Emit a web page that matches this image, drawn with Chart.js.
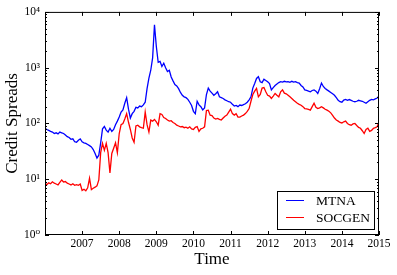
<!DOCTYPE html>
<html>
<head>
<meta charset="utf-8">
<script src="https://cdn.jsdelivr.net/npm/chart.js@4"></script>
<style>
  body { margin: 0; background: #fff; }
</style>
</head>
<body>
<canvas id="chart" width="397" height="275"></canvas>
<script>
// values, one every 0.05 year from 2006.0 to 2015.0
const startYear = 2006;
const step = 0.05;

const mtna = [
  82, 78, 75, 72, 70, 66, 68, 65, 70, 68,
  66, 62, 58, 56, 52, 53, 47, 46, 50, 53,
  47, 45, 44, 42, 40, 38, 34, 29, 24, 27,
  45, 80, 88, 76, 70, 82, 72, 78, 95, 110,
  130, 160, 175, 230, 290, 180, 125, 150, 165, 195,
  190, 205, 200, 215, 240, 420, 650, 900, 1500, 5900,
  2400, 1250, 1300, 1050, 1200, 1000, 850, 900, 680, 580,
  500, 470, 420, 360, 320, 300, 290, 270, 240, 210,
  165, 150, 250, 215, 200, 175, 190, 330, 430, 380,
  350, 320, 340, 370, 300, 290, 280, 265, 255, 245,
  240, 220, 205, 210, 200, 214, 210, 218, 225, 240,
  265, 300, 430, 520, 640, 690, 560, 540, 620, 590,
  560, 520, 400, 440, 480, 510, 540, 560, 550, 570,
  555, 560, 545, 570, 550, 560, 540, 530, 480, 450,
  400, 390, 380, 370, 390, 400, 380, 345, 420, 530,
  460, 425, 400, 380, 360, 340, 320, 290, 260, 245,
  240, 263, 270, 260, 268, 260, 250, 245, 250, 260,
  255, 250, 240, 230, 245, 260, 270, 265, 275, 285,
  310
];

const socgen = [
  8.4, 8.0, 8.6, 8.3, 9.0, 8.5, 8.2, 7.9, 8.8, 9.7,
  8.9, 9.1, 8.5, 8.2, 7.9, 8.3, 7.8, 8.0, 7.8, 8.2,
  6.3, 6.6, 6.2, 7.0, 10.4, 6.5, 6.9, 7.2, 7.6, 9.7,
  30, 44, 33, 44, 30, 13, 29, 36, 45, 30,
  66, 95, 100, 120, 150, 105, 78, 55, 46, 90,
  93, 87, 84, 82, 160, 95, 70, 115, 110, 118,
  107, 93, 150, 145, 128, 123, 115, 110, 112, 104,
  100, 93, 90, 87, 88, 84, 86, 82, 87, 80,
  78, 85, 88, 72, 80, 82, 87, 170, 173, 141,
  138, 125, 120, 123, 118, 115, 125, 135, 141, 160,
  180, 150, 141, 150, 130, 130, 136, 141, 150, 165,
  185, 250, 330, 380, 425, 300, 330, 430, 440, 370,
  320, 310, 280, 310, 345, 320, 300, 370, 400, 350,
  340, 320, 300, 280, 260, 245, 230, 220, 212, 200,
  185, 182, 178, 173, 200, 230, 195, 185, 190, 200,
  190, 180, 173, 165, 155, 140, 125, 115, 110, 104,
  102, 107, 110, 100, 95, 93, 98, 100, 92, 85,
  82, 74, 66, 78, 82, 72, 75, 82, 84, 87,
  107
];

const yearTicks = [2007, 2008, 2009, 2010, 2011, 2012, 2013, 2014, 2015];
const decades = [1, 10, 100, 1000, 10000];
const sup = ['⁰', '¹', '²', '³', '⁴'];

const serif = '"Liberation Serif", "DejaVu Serif", serif';

function toPoints(values) {
  return values.map((v, i) => ({ x: +(startYear + i * step).toFixed(2), y: v }));
}

// frame with inward ticks on all four sides, like matplotlib classic
const framePlugin = {
  id: 'frame',
  afterDatasetsDraw(chart) {
    const { ctx, chartArea: a, scales: { x, y } } = chart;
    ctx.save();
    ctx.strokeStyle = '#000';
    ctx.lineWidth = 1;
    ctx.beginPath();
    yearTicks.forEach(t => {
      const px = Math.round(x.getPixelForValue(t)) + 0.5;
      ctx.moveTo(px, a.bottom); ctx.lineTo(px, a.bottom - 4);
      ctx.moveTo(px, a.top); ctx.lineTo(px, a.top + 4);
    });
    decades.forEach(d => {
      for (let m = 1; m < 10; m++) {
        const v = d * m;
        if (v > 10000) break;
        const py = Math.round(y.getPixelForValue(v)) + 0.5;
        const len = m === 1 ? 4 : 2;
        ctx.moveTo(a.left, py); ctx.lineTo(a.left + len, py);
        ctx.moveTo(a.right, py); ctx.lineTo(a.right - len, py);
      }
    });
    ctx.stroke();
    ctx.strokeRect(a.left + 0.5, a.top + 0.5, a.right - a.left - 1, a.bottom - a.top - 1);
    ctx.restore();
  },
  afterDraw(chart) {
    const ctx = chart.ctx;
    const bx = 277.5, by = 191.5, bw = 97, bh = 38;
    ctx.save();
    ctx.fillStyle = '#fff';
    ctx.fillRect(bx, by, bw, bh);
    ctx.strokeStyle = '#000';
    ctx.lineWidth = 1;
    ctx.strokeRect(bx, by, bw, bh);
    ctx.font = '13.5px ' + serif;
    ctx.textBaseline = 'middle';
    chart.data.datasets.forEach((ds, i) => {
      const ly = 200.5 + i * 17;
      ctx.strokeStyle = ds.borderColor;
      ctx.beginPath();
      ctx.moveTo(286, ly); ctx.lineTo(304, ly);
      ctx.stroke();
      ctx.fillStyle = '#000';
      ctx.fillText(ds.label, 316, ly + 0.5);
    });
    ctx.restore();
  }
};

new Chart(document.getElementById('chart'), {
  type: 'line',
  data: {
    datasets: [
      { label: 'MTNA', data: toPoints(mtna), borderColor: '#0000ff', borderWidth: 1.3, order: 1 },
      { label: 'SOCGEN', data: toPoints(socgen), borderColor: '#ff0000', borderWidth: 1.3, order: 0 }
    ]
  },
  options: {
    responsive: false,
    devicePixelRatio: 1,
    animation: false,
    layout: { padding: { top: 11, right: 18, left: 0, bottom: 0 } },
    elements: { point: { radius: 0 }, line: { tension: 0 } },
    plugins: { legend: { display: false }, tooltip: { enabled: false } },
    scales: {
      x: {
        type: 'linear',
        min: 2006,
        max: 2015,
        grid: { display: false, drawTicks: false },
        border: { display: false },
        afterFit: s => { s.height = 40; },
        ticks: {
          stepSize: 1,
          autoSkip: false,
          maxRotation: 0,
          padding: 2,
          color: '#000',
          font: { family: serif, size: 11.5 },
          callback: v => (v >= 2007 ? String(v) : '')
        },
        title: {
          display: true,
          text: 'Time',
          color: '#000',
          font: { family: serif, size: 17 },
          padding: { top: 0, bottom: 5 }
        }
      },
      y: {
        type: 'logarithmic',
        min: 1,
        max: 10000,
        grid: { display: false, drawTicks: false },
        border: { display: false },
        afterFit: s => { s.width = 45; },
        ticks: {
          autoSkip: false,
          padding: 5,
          color: '#000',
          font: { family: serif, size: 11.5 },
          callback: v => {
            const e = Math.round(Math.log10(v));
            return Math.abs(Math.log10(v) - e) < 1e-9 ? '10' + sup[e] : '';
          }
        },
        title: {
          display: true,
          text: 'Credit Spreads',
          color: '#000',
          font: { family: serif, size: 17 },
          padding: { top: 2, bottom: 0 }
        }
      }
    }
  },
  plugins: [framePlugin]
});
</script>
</body>
</html>
